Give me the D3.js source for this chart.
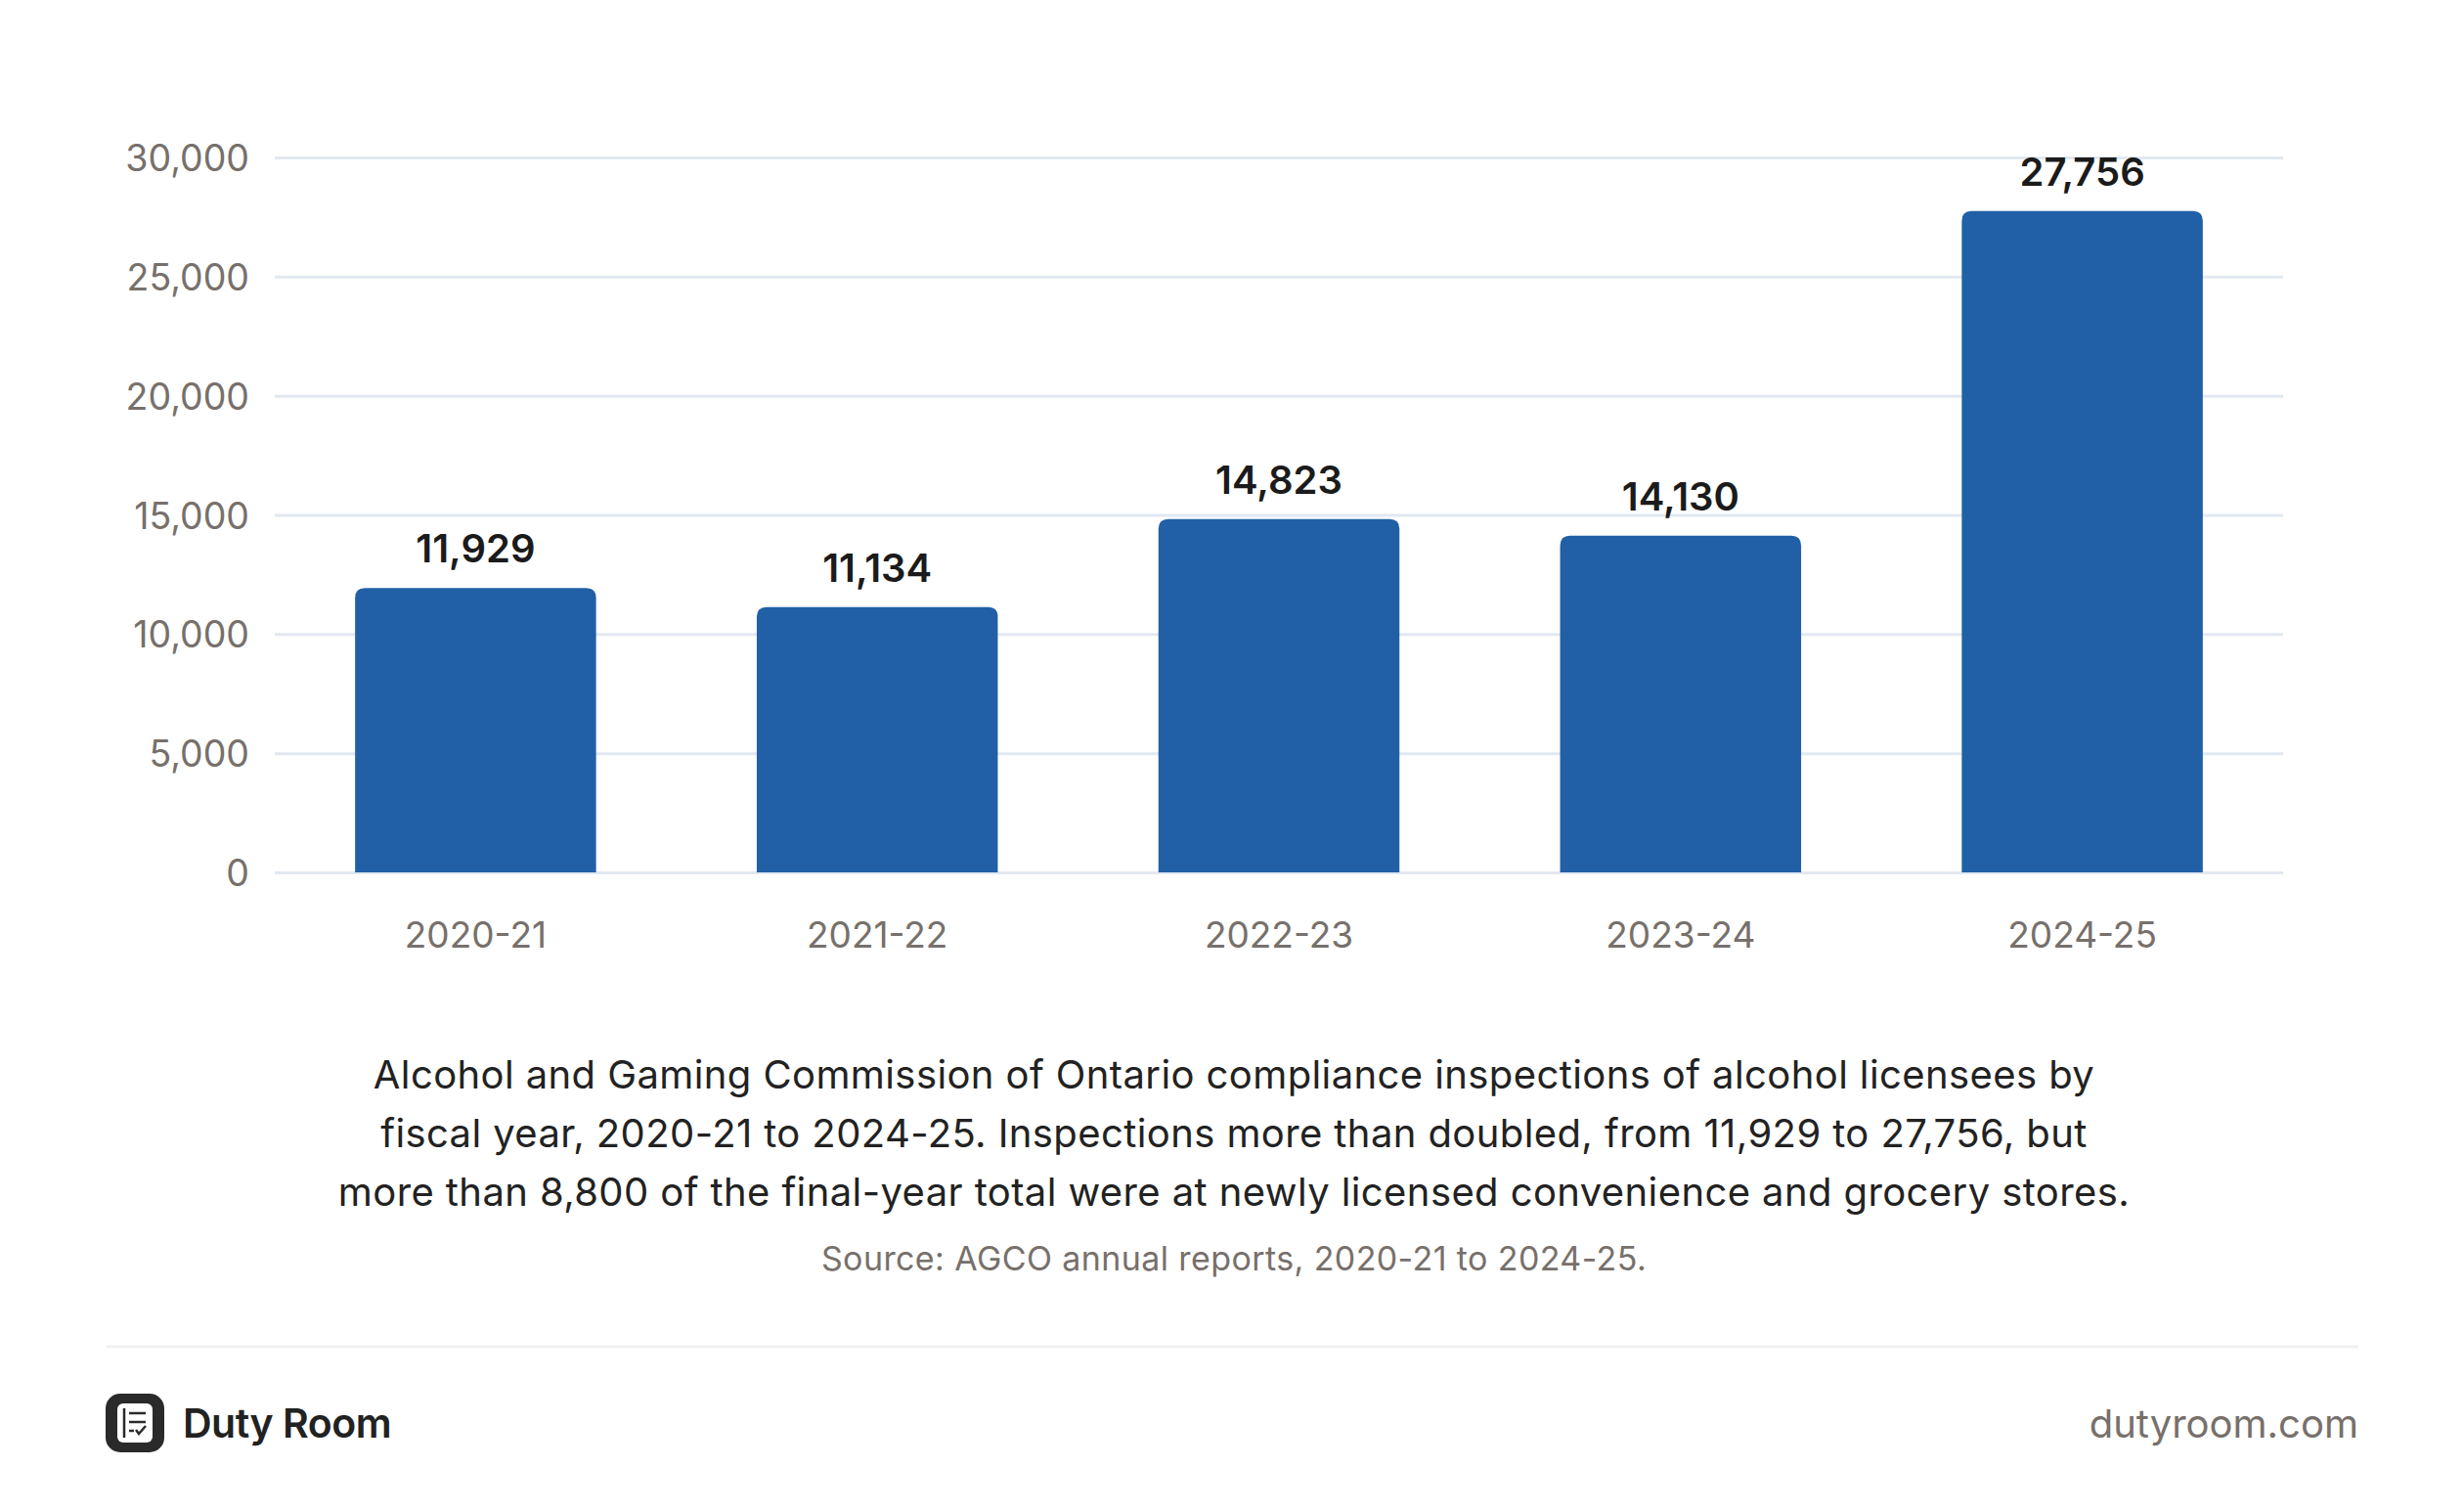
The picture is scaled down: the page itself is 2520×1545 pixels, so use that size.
<!DOCTYPE html>
<html>
<head>
<meta charset="utf-8">
<script src="https://cdn.jsdelivr.net/npm/d3@7/dist/d3.min.js"></script>
<style>
  html, body { margin: 0; padding: 0; background: #ffffff; }
  svg { display: block; }
  text { font-family: Inter, "Noto Sans", sans-serif; }
</style>
</head>
<body>
<svg id="chart" width="2520" height="1545"></svg>
<script>
const categories = ["2020-21", "2021-22", "2022-23", "2023-24", "2024-25"];
const inspections = [11929, 11134, 14823, 14130, 27756];
const yTicks = [0, 5000, 10000, 15000, 20000, 25000, 30000];
const captionLines = [
  "Alcohol and Gaming Commission of Ontario compliance inspections of alcohol licensees by",
  "fiscal year, 2020-21 to 2024-25. Inspections more than doubled, from 11,929 to 27,756, but",
  "more than 8,800 of the final-year total were at newly licensed convenience and grocery stores."
];
const sourceText = "Source: AGCO annual reports, 2020-21 to 2024-25.";
const brandName = "Duty Room";
const brandUrl = "dutyroom.com";

const svg = d3.select("#chart");
const fmt = d3.format(",");

const plot = { left: 281, right: 2335, top: 161, bottom: 892 };

const x = d3.scaleBand()
  .domain(categories)
  .range([plot.left, plot.right])
  .paddingInner(0.4)
  .paddingOuter(0.2);

const y = d3.scaleLinear()
  .domain([0, 30000])
  .range([plot.bottom, plot.top]);

// gridlines
const grid = svg.append("g")
  .attr("transform", `translate(${plot.left},0)`)
  .call(d3.axisLeft(y).tickValues(yTicks).tickSize(-(plot.right - plot.left)).tickFormat(""));
grid.select(".domain").remove();
grid.selectAll(".tick line").attr("stroke", "#e1e8f1").attr("stroke-width", 3);

// y tick labels
const yAxis = svg.append("g")
  .attr("transform", `translate(${plot.left - 26},0)`)
  .call(d3.axisLeft(y).tickValues(yTicks).tickSize(0).tickPadding(0).tickFormat(fmt));
yAxis.select(".domain").remove();
yAxis.selectAll(".tick text")
  .attr("fill", "#77706b")
  .attr("font-size", 37.5)
  .attr("font-family", "Inter, sans-serif")
  .attr("dy", "0.36em");

// x tick labels
const xAxis = svg.append("g")
  .attr("transform", `translate(0,${plot.bottom})`)
  .call(d3.axisBottom(x).tickSize(0).tickPadding(0));
xAxis.select(".domain").remove();
xAxis.selectAll(".tick text")
  .attr("fill", "#77706b")
  .attr("font-size", 37)
  .attr("font-family", "Inter, sans-serif")
  .attr("dy", 0)
  .attr("y", 77);

// bars with rounded top corners
const r = 10;
function barPath(d, i) {
  const x0 = x(categories[i]);
  const w = x.bandwidth();
  const yt = y(d);
  const yb = y(0);
  return `M${x0},${yb} L${x0},${yt + r} Q${x0},${yt} ${x0 + r},${yt} L${x0 + w - r},${yt} Q${x0 + w},${yt} ${x0 + w},${yt + r} L${x0 + w},${yb} Z`;
}
svg.append("g").selectAll("path")
  .data(inspections)
  .join("path")
  .attr("d", barPath)
  .attr("fill", "#2160a6");

// value labels
svg.append("g").selectAll("text")
  .data(inspections)
  .join("text")
  .attr("x", (d, i) => x(categories[i]) + x.bandwidth() / 2)
  .attr("y", d => y(d) - 26)
  .attr("text-anchor", "middle")
  .attr("font-size", 40)
  .attr("font-weight", 600)
  .attr("fill", "#1b1b1b")
  .text(d => fmt(d));

// caption
const cx = 1262;
svg.append("text")
  .attr("text-anchor", "middle")
  .attr("font-size", 40)
  .attr("letter-spacing", 0.4)
  .attr("fill", "#222222")
  .selectAll("tspan")
  .data(captionLines)
  .join("tspan")
  .attr("x", cx)
  .attr("y", (d, i) => 1113 + i * 60)
  .text(d => d);

svg.append("text")
  .attr("x", cx)
  .attr("y", 1299)
  .attr("text-anchor", "middle")
  .attr("font-size", 34)
  .attr("letter-spacing", 0.4)
  .attr("fill", "#77706b")
  .text(sourceText);

// separator
svg.append("line")
  .attr("x1", 109).attr("x2", 2412)
  .attr("y1", 1377).attr("y2", 1377)
  .attr("stroke", "#f1f1f1").attr("stroke-width", 3);

// footer logo
const logo = svg.append("g").attr("transform", "translate(108,1425)");
logo.append("rect").attr("width", 60).attr("height", 60).attr("rx", 15).attr("fill", "#2b2a2a");
logo.append("rect").attr("x", 12).attr("y", 10).attr("width", 36).attr("height", 40).attr("rx", 6).attr("fill", "#ffffff");
logo.append("line").attr("x1", 19).attr("x2", 19).attr("y1", 15).attr("y2", 45).attr("stroke", "#2b2a2a").attr("stroke-width", 2.5);
[20, 29].forEach(yy => {
  logo.append("line").attr("x1", 24).attr("x2", 41).attr("y1", yy).attr("y2", yy).attr("stroke", "#2b2a2a").attr("stroke-width", 2.5);
});
logo.append("line").attr("x1", 24).attr("x2", 29).attr("y1", 38).attr("y2", 38).attr("stroke", "#2b2a2a").attr("stroke-width", 2.5);
logo.append("path").attr("d", "M31,37 L34,41 L41,33").attr("fill", "none").attr("stroke", "#2b2a2a").attr("stroke-width", 2.5);

svg.append("text")
  .attr("x", 187).attr("y", 1470)
  .attr("font-size", 41)
  .attr("font-weight", 600)
  .attr("letter-spacing", -0.5)
  .attr("fill", "#222222")
  .text(brandName);

svg.append("text")
  .attr("x", 2412).attr("y", 1470)
  .attr("text-anchor", "end")
  .attr("font-size", 40)
  .attr("fill", "#77706b")
  .text(brandUrl);
</script>
</body>
</html>
